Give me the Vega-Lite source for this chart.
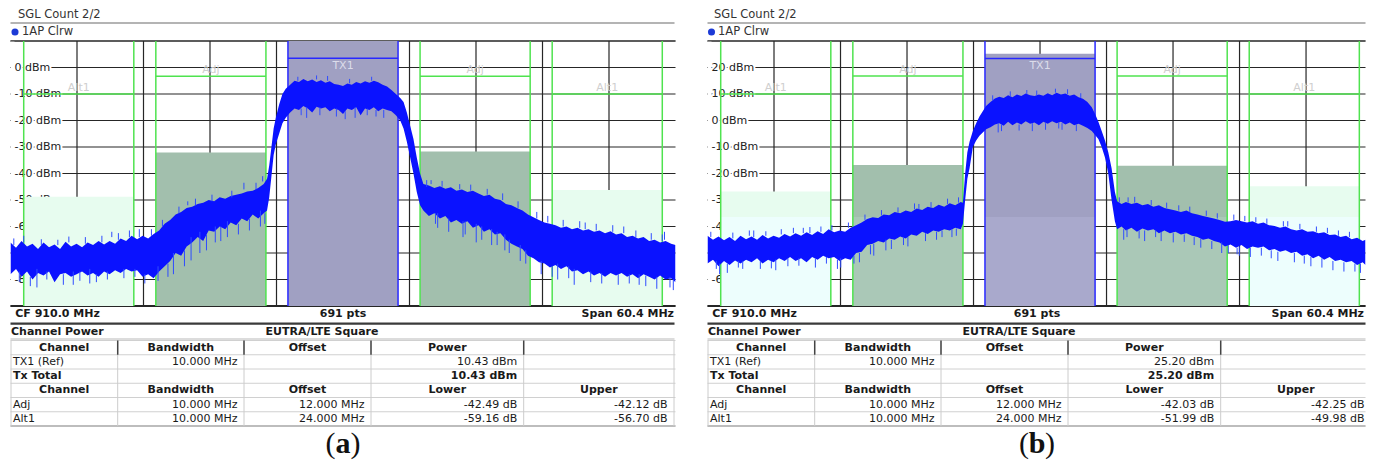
{
"$schema":"https://vega.github.io/schema/vega-lite/v6.json",
"background":"white",
"padding":{"left":8.5,"top":0,"right":0,"bottom":0},
"config":{"view":{"stroke":null}},
"datasets":{
"yA":[{"v":10,"t":""},{"v":0,"t":"0 dBm"},{"v":-10,"t":"-10 dBm"},{"v":-20,"t":"-20 dBm"},{"v":-30,"t":"-30 dBm"},{"v":-40,"t":"-40 dBm"},{"v":-50,"t":"-50 dBm"},{"v":-60,"t":"-60 dBm"},{"v":-70,"t":"-70 dBm"},{"v":-80,"t":"-80 dBm"},{"v":-90,"t":""}],
"yB":[{"v":30,"t":""},{"v":20,"t":"20 dBm"},{"v":10,"t":"10 dBm"},{"v":0,"t":"0 dBm"},{"v":-10,"t":"-10 dBm"},{"v":-20,"t":"-20 dBm"},{"v":-30,"t":"-30 dBm"},{"v":-40,"t":"-40 dBm"},{"v":-50,"t":"-50 dBm"},{"v":-60,"t":"-60 dBm"},{"v":-70,"t":""}],
"vgrid":[{"f":885.84},{"f":891.88},{"f":897.92},{"f":903.96},{"f":910},{"f":916.04},{"f":922.08},{"f":928.12},{"f":934.16}],
"chA":[{"ch":"Alt1","fc":886,"lo":881,"hi":891,"pw":-48.73,"lim":-10},{"ch":"Adj","fc":898,"lo":893,"hi":903,"pw":-32.06,"lim":-3.3},{"ch":"TX1","fc":910,"lo":905,"hi":915,"pw":10.43,"lim":3.5},{"ch":"Adj","fc":922,"lo":917,"hi":927,"pw":-31.69,"lim":-3.3},{"ch":"Alt1","fc":934,"lo":929,"hi":939,"pw":-46.27,"lim":-10}],
"chB":[{"ch":"Alt1","fc":886,"lo":881,"hi":891,"pw":-26.79,"lim":10},{"ch":"Adj","fc":898,"lo":893,"hi":903,"pw":-16.83,"lim":16.8},{"ch":"TX1","fc":910,"lo":905,"hi":915,"pw":25.2,"lim":23.4},{"ch":"Adj","fc":922,"lo":917,"hi":927,"pw":-17.05,"lim":16.8},{"ch":"Alt1","fc":934,"lo":929,"hi":939,"pw":-24.78,"lim":10}],
"traceA":[
{"f":879.8,"hi":-66,"lo":-78},{"f":880.3,"hi":-68,"lo":-76},{"f":880.8,"hi":-65.5,"lo":-79},{"f":881.3,"hi":-67.5,"lo":-77},{"f":881.8,"hi":-66.5,"lo":-80},{"f":882.3,"hi":-68.5,"lo":-77.5},{"f":882.8,"hi":-66,"lo":-78.5},{"f":883.3,"hi":-67.8,"lo":-77},{"f":883.8,"hi":-66.8,"lo":-81},{"f":884.3,"hi":-68.5,"lo":-78},{"f":884.8,"hi":-65.8,"lo":-77.5},{"f":885.3,"hi":-67.5,"lo":-79},{"f":885.8,"hi":-66.5,"lo":-78},{"f":886.3,"hi":-67.8,"lo":-77},{"f":886.8,"hi":-66,"lo":-78.5},{"f":887.3,"hi":-67,"lo":-77.5},{"f":887.8,"hi":-65.5,"lo":-79},{"f":888.3,"hi":-66.8,"lo":-77},{"f":888.8,"hi":-65.5,"lo":-78},{"f":889.3,"hi":-66.5,"lo":-76.5},{"f":889.8,"hi":-64.5,"lo":-77.5},{"f":890.3,"hi":-65.5,"lo":-76},{"f":890.8,"hi":-63.5,"lo":-77},{"f":891.3,"hi":-64.8,"lo":-76.5},{"f":891.8,"hi":-63.5,"lo":-79},{"f":892.3,"hi":-64.5,"lo":-78},{"f":892.8,"hi":-62.8,"lo":-79.5},{"f":893.3,"hi":-61.5,"lo":-77},{"f":893.8,"hi":-59,"lo":-75},{"f":894.3,"hi":-57.5,"lo":-73},{"f":894.8,"hi":-55.5,"lo":-70},{"f":895.3,"hi":-54.5,"lo":-71},{"f":895.8,"hi":-53,"lo":-67.5},{"f":896.3,"hi":-52.5,"lo":-66},{"f":896.8,"hi":-51.5,"lo":-64},{"f":897.3,"hi":-51,"lo":-65.5},{"f":897.8,"hi":-50,"lo":-61.5},{"f":898.3,"hi":-50.5,"lo":-62},{"f":898.8,"hi":-49,"lo":-60},{"f":899.3,"hi":-49.5,"lo":-61},{"f":899.8,"hi":-48.5,"lo":-58.5},{"f":900.3,"hi":-48,"lo":-59.5},{"f":900.8,"hi":-47.5,"lo":-57},{"f":901.3,"hi":-46.8,"lo":-58},{"f":901.8,"hi":-46.5,"lo":-55.5},{"f":902.3,"hi":-45.5,"lo":-57},{"f":902.8,"hi":-44,"lo":-55},{"f":903.1,"hi":-42,"lo":-54},{"f":903.3,"hi":-37,"lo":-49},{"f":903.5,"hi":-30,"lo":-41},{"f":903.7,"hi":-23,"lo":-33},{"f":903.9,"hi":-19,"lo":-29},{"f":904.2,"hi":-14,"lo":-25},{"f":904.5,"hi":-10,"lo":-21},{"f":904.8,"hi":-8,"lo":-19},{"f":905.2,"hi":-6.5,"lo":-17},{"f":905.6,"hi":-5,"lo":-15.5},{"f":906.0,"hi":-5.5,"lo":-16},{"f":906.4,"hi":-4.3,"lo":-14.5},{"f":906.8,"hi":-5.2,"lo":-15.5},{"f":907.2,"hi":-4.5,"lo":-17},{"f":907.6,"hi":-5.5,"lo":-14.8},{"f":908.0,"hi":-4.8,"lo":-15.5},{"f":908.4,"hi":-5.8,"lo":-15},{"f":908.8,"hi":-5.2,"lo":-16.5},{"f":909.2,"hi":-6.2,"lo":-15.5},{"f":909.6,"hi":-6.5,"lo":-16},{"f":910.0,"hi":-7,"lo":-17.5},{"f":910.4,"hi":-6,"lo":-15.5},{"f":910.8,"hi":-6.5,"lo":-16},{"f":911.2,"hi":-5.5,"lo":-15},{"f":911.6,"hi":-6,"lo":-18},{"f":912.0,"hi":-5.2,"lo":-15.5},{"f":912.4,"hi":-5.8,"lo":-16},{"f":912.8,"hi":-5,"lo":-15},{"f":913.2,"hi":-5.6,"lo":-16.5},{"f":913.6,"hi":-6.5,"lo":-15.5},{"f":914.0,"hi":-7.2,"lo":-16},{"f":914.4,"hi":-8.5,"lo":-16.5},{"f":914.8,"hi":-10,"lo":-18},{"f":915.2,"hi":-11.5,"lo":-20},{"f":915.5,"hi":-13,"lo":-23},{"f":915.8,"hi":-17,"lo":-28},{"f":916.1,"hi":-22,"lo":-34},{"f":916.4,"hi":-27,"lo":-40},{"f":916.7,"hi":-34,"lo":-47},{"f":917.0,"hi":-40,"lo":-52},{"f":917.3,"hi":-44,"lo":-54},{"f":917.8,"hi":-44.5,"lo":-56},{"f":918.3,"hi":-45.5,"lo":-55},{"f":918.8,"hi":-44.8,"lo":-57},{"f":919.3,"hi":-45.8,"lo":-56},{"f":919.8,"hi":-45.2,"lo":-58.5},{"f":920.3,"hi":-46.5,"lo":-57.5},{"f":920.8,"hi":-46,"lo":-59},{"f":921.3,"hi":-47,"lo":-58},{"f":921.8,"hi":-46.5,"lo":-60.5},{"f":922.3,"hi":-47.5,"lo":-59.5},{"f":922.8,"hi":-48.5,"lo":-62},{"f":923.3,"hi":-48,"lo":-61},{"f":923.8,"hi":-49.5,"lo":-63},{"f":924.3,"hi":-50,"lo":-62.5},{"f":924.8,"hi":-51.5,"lo":-65},{"f":925.3,"hi":-52,"lo":-66.5},{"f":925.8,"hi":-53,"lo":-67.5},{"f":926.3,"hi":-54,"lo":-68.5},{"f":926.8,"hi":-55.5,"lo":-71},{"f":927.3,"hi":-56.5,"lo":-72},{"f":927.8,"hi":-57.5,"lo":-73.5},{"f":928.3,"hi":-58.5,"lo":-74},{"f":928.8,"hi":-59,"lo":-75.5},{"f":929.3,"hi":-59.5,"lo":-74.5},{"f":929.8,"hi":-60.5,"lo":-76},{"f":930.3,"hi":-60,"lo":-75},{"f":930.8,"hi":-61,"lo":-77},{"f":931.3,"hi":-60.5,"lo":-76.5},{"f":931.8,"hi":-61.5,"lo":-78},{"f":932.3,"hi":-61,"lo":-77},{"f":932.8,"hi":-62,"lo":-78.5},{"f":933.3,"hi":-61.5,"lo":-77.5},{"f":933.8,"hi":-62.5,"lo":-79},{"f":934.3,"hi":-61.8,"lo":-77.5},{"f":934.8,"hi":-63,"lo":-78.5},{"f":935.3,"hi":-62.5,"lo":-77.5},{"f":935.8,"hi":-64,"lo":-79},{"f":936.3,"hi":-63.5,"lo":-78},{"f":936.8,"hi":-64.5,"lo":-79.5},{"f":937.3,"hi":-64,"lo":-78},{"f":937.8,"hi":-65.5,"lo":-79},{"f":938.3,"hi":-65,"lo":-80},{"f":938.8,"hi":-66,"lo":-78.5},{"f":939.3,"hi":-65.5,"lo":-80},{"f":939.8,"hi":-66.5,"lo":-79.5},{"f":940.2,"hi":-67,"lo":-81}],
"spikeA":[{"f":882.2,"a":-76,"b":-83},{"f":885.5,"a":-77,"b":-82},{"f":887.0,"a":-76,"b":-81.5},{"f":893.2,"a":-75,"b":-80.5},{"f":894.6,"a":-70,"b":-78},{"f":896.2,"a":-64,"b":-72.8},{"f":897.0,"a":-62,"b":-70},{"f":898.4,"a":-60,"b":-66},{"f":899.5,"a":-58,"b":-64},{"f":902.5,"a":-54,"b":-60},{"f":906.7,"a":-15,"b":-19},{"f":911.1,"a":-15,"b":-19},{"f":913.7,"a":-16,"b":-19},{"f":918.6,"a":-55,"b":-60.5},{"f":920.9,"a":-58,"b":-64},{"f":922.1,"a":-59,"b":-66},{"f":923.5,"a":-61,"b":-67},{"f":924.7,"a":-63,"b":-69},{"f":926.1,"a":-67,"b":-73},{"f":929.5,"a":-74,"b":-80},{"f":931.0,"a":-76,"b":-82},{"f":936.9,"a":-78,"b":-82},{"f":939.7,"a":-79,"b":-83},{"f":881.0,"a":-66,"b":-63.5},{"f":889.0,"a":-64,"b":-62},{"f":895.9,"a":-52,"b":-50.5},{"f":901.0,"a":-46,"b":-43.5},{"f":902.7,"a":-43,"b":-41},{"f":907.6,"a":-4.5,"b":-3},{"f":918.0,"a":-44,"b":-42.5},{"f":932.0,"a":-61,"b":-58.5},{"f":939.2,"a":-65,"b":-62},
{"f":880.1,"a":-67,"b":-64.5},{"f":880.6,"a":-77,"b":-81},{"f":881.6,"a":-79,"b":-82.5},{"f":882.6,"a":-67,"b":-64.8},{"f":883.1,"a":-77,"b":-80},{"f":884.1,"a":-67,"b":-65},{"f":884.6,"a":-78,"b":-82},{"f":885.1,"a":-66,"b":-63.8},{"f":886.1,"a":-77,"b":-80.5},{"f":886.6,"a":-66.5,"b":-64},{"f":887.6,"a":-78,"b":-81},{"f":888.1,"a":-66,"b":-63.5},{"f":888.6,"a":-77,"b":-80},{"f":889.6,"a":-65,"b":-62.5},{"f":890.1,"a":-76,"b":-79.5},{"f":890.6,"a":-64,"b":-61.5},{"f":891.1,"a":-76,"b":-79},{"f":891.5,"a":-64,"b":-61},{"f":892.0,"a":-78,"b":-81.5},{"f":892.6,"a":-63.5,"b":-61},{"f":893.6,"a":-60,"b":-57.5},{"f":894.1,"a":-74,"b":-79},{"f":895.1,"a":-55,"b":-52.5},{"f":895.6,"a":-69,"b":-75},{"f":896.6,"a":-52,"b":-49.5},{"f":897.6,"a":-63,"b":-69},{"f":898.1,"a":-50.5,"b":-48},{"f":898.9,"a":-60,"b":-65.5},{"f":899.9,"a":-49,"b":-46.5},{"f":900.5,"a":-59,"b":-63},{"f":901.5,"a":-57,"b":-61.5},{"f":902.1,"a":-46,"b":-43.5},{"f":902.9,"a":-55,"b":-59},{"f":905.9,"a":-5,"b":-3.5},{"f":906.2,"a":-15.5,"b":-18},{"f":907.9,"a":-15,"b":-18},{"f":908.6,"a":-5,"b":-3.2},{"f":909.4,"a":-15.5,"b":-18.5},{"f":910.2,"a":-16.5,"b":-19.5},{"f":910.6,"a":-6,"b":-4.3},{"f":912.2,"a":-15.5,"b":-18},{"f":912.6,"a":-5,"b":-3.5},{"f":913.0,"a":-16,"b":-18.5},{"f":917.6,"a":-45,"b":-42.5},{"f":918.4,"a":-55,"b":-59},{"f":919.0,"a":-45,"b":-42.8},{"f":919.6,"a":-57,"b":-62},{"f":920.6,"a":-46,"b":-44},{"f":921.1,"a":-58,"b":-63},{"f":921.6,"a":-46.5,"b":-44.2},{"f":922.6,"a":-60,"b":-65},{"f":923.1,"a":-48,"b":-45.8},{"f":924.0,"a":-62,"b":-67},{"f":924.5,"a":-50,"b":-47.5},{"f":925.1,"a":-65,"b":-70},{"f":925.9,"a":-53,"b":-50.5},{"f":926.6,"a":-69,"b":-74},{"f":927.6,"a":-57,"b":-54.5},{"f":928.0,"a":-73,"b":-78},{"f":928.6,"a":-58.5,"b":-56},{"f":929.0,"a":-75,"b":-79},{"f":930.0,"a":-60,"b":-57.5},{"f":930.5,"a":-75,"b":-79.5},{"f":931.5,"a":-60.5,"b":-58},{"f":932.5,"a":-77,"b":-81},{"f":933.0,"a":-61.5,"b":-59},{"f":933.5,"a":-77.5,"b":-81.5},{"f":934.5,"a":-62,"b":-59.5},{"f":935.0,"a":-78,"b":-82},{"f":935.5,"a":-62.5,"b":-60},{"f":936.0,"a":-78,"b":-81.5},{"f":936.6,"a":-64,"b":-61.5},{"f":937.5,"a":-78.5,"b":-82.5},{"f":938.0,"a":-65,"b":-62.5},{"f":938.5,"a":-79,"b":-83.5},{"f":939.0,"a":-65.5,"b":-63},{"f":940.0,"a":-80,"b":-84}],
"traceB":[
{"f":879.8,"hi":-43.5,"lo":-54},{"f":880.3,"hi":-45,"lo":-52.5},{"f":880.8,"hi":-43.8,"lo":-55},{"f":881.3,"hi":-45.2,"lo":-53},{"f":881.8,"hi":-44,"lo":-54.5},{"f":882.3,"hi":-45.5,"lo":-52.8},{"f":882.8,"hi":-43.5,"lo":-54},{"f":883.3,"hi":-44.8,"lo":-52.5},{"f":883.8,"hi":-43.8,"lo":-53.5},{"f":884.3,"hi":-45,"lo":-52},{"f":884.8,"hi":-43.2,"lo":-54},{"f":885.3,"hi":-44.5,"lo":-52.5},{"f":885.8,"hi":-43.5,"lo":-53.5},{"f":886.3,"hi":-44.2,"lo":-52},{"f":886.8,"hi":-42.8,"lo":-53},{"f":887.3,"hi":-43.8,"lo":-51.5},{"f":887.8,"hi":-42.5,"lo":-53},{"f":888.3,"hi":-43.5,"lo":-52},{"f":888.8,"hi":-42.2,"lo":-53.5},{"f":889.3,"hi":-43.2,"lo":-51.5},{"f":889.8,"hi":-41.8,"lo":-52.5},{"f":890.3,"hi":-42.8,"lo":-51},{"f":890.8,"hi":-41,"lo":-52},{"f":891.3,"hi":-42.2,"lo":-51.5},{"f":891.8,"hi":-41.5,"lo":-53},{"f":892.3,"hi":-42,"lo":-52},{"f":892.8,"hi":-40.5,"lo":-52.5},{"f":893.3,"hi":-39.5,"lo":-50},{"f":893.8,"hi":-38.5,"lo":-49.5},{"f":894.3,"hi":-37.2,"lo":-47},{"f":894.8,"hi":-36.5,"lo":-46.5},{"f":895.3,"hi":-36.8,"lo":-45.5},{"f":895.8,"hi":-35.5,"lo":-46},{"f":896.3,"hi":-35.8,"lo":-44.5},{"f":896.8,"hi":-34.5,"lo":-45},{"f":897.3,"hi":-35,"lo":-43.8},{"f":897.8,"hi":-34,"lo":-44.5},{"f":898.3,"hi":-34.5,"lo":-43},{"f":898.8,"hi":-33.2,"lo":-43.5},{"f":899.3,"hi":-33.8,"lo":-42},{"f":899.8,"hi":-32.5,"lo":-42.8},{"f":900.3,"hi":-33,"lo":-41.5},{"f":900.8,"hi":-31.8,"lo":-42},{"f":901.3,"hi":-32.5,"lo":-41},{"f":901.8,"hi":-31.2,"lo":-41.5},{"f":902.3,"hi":-32,"lo":-40.5},{"f":902.8,"hi":-30.8,"lo":-41},{"f":903.0,"hi":-31,"lo":-39},{"f":903.2,"hi":-20,"lo":-30},{"f":903.4,"hi":-12,"lo":-22},{"f":903.6,"hi":-8,"lo":-18},{"f":903.9,"hi":-4,"lo":-10},{"f":904.2,"hi":-1,"lo":-7.5},{"f":904.5,"hi":1.5,"lo":-5.8},{"f":904.8,"hi":3.5,"lo":-4.5},{"f":905.1,"hi":5.5,"lo":-3.3},{"f":905.5,"hi":7,"lo":-2.5},{"f":905.9,"hi":8.3,"lo":-1.5},{"f":906.3,"hi":9,"lo":-1},{"f":906.7,"hi":8.5,"lo":-2},{"f":907.1,"hi":9.5,"lo":-0.5},{"f":907.5,"hi":8.8,"lo":-1.8},{"f":907.9,"hi":9.8,"lo":-0.8},{"f":908.3,"hi":9.2,"lo":-1.5},{"f":908.7,"hi":10.2,"lo":-0.3},{"f":909.1,"hi":9.5,"lo":-1.2},{"f":909.5,"hi":9.2,"lo":-0.8},{"f":909.9,"hi":9.8,"lo":-1.8},{"f":910.3,"hi":9.3,"lo":-0.5},{"f":910.7,"hi":10.3,"lo":-1.2},{"f":911.1,"hi":9.5,"lo":-0.3},{"f":911.5,"hi":10.5,"lo":-1},{"f":911.9,"hi":9.8,"lo":-0.5},{"f":912.3,"hi":10.2,"lo":-1.5},{"f":912.7,"hi":9.3,"lo":-0.8},{"f":913.1,"hi":9.8,"lo":-1.8},{"f":913.5,"hi":8.8,"lo":-1.2},{"f":913.9,"hi":8.2,"lo":-2},{"f":914.3,"hi":7,"lo":-2.8},{"f":914.7,"hi":5,"lo":-4},{"f":915.0,"hi":2.5,"lo":-5.5},{"f":915.3,"hi":-0.5,"lo":-7},{"f":915.6,"hi":-4,"lo":-10},{"f":915.9,"hi":-7.5,"lo":-14},{"f":916.2,"hi":-12,"lo":-20},{"f":916.5,"hi":-18,"lo":-30},{"f":916.8,"hi":-27,"lo":-38},{"f":917.0,"hi":-30.5,"lo":-41},{"f":917.4,"hi":-31.5,"lo":-40},{"f":917.8,"hi":-30.8,"lo":-41.5},{"f":918.3,"hi":-31.5,"lo":-40.5},{"f":918.8,"hi":-31,"lo":-42},{"f":919.3,"hi":-32,"lo":-40.8},{"f":919.8,"hi":-31.5,"lo":-41.5},{"f":920.3,"hi":-32.5,"lo":-41},{"f":920.8,"hi":-32,"lo":-42.5},{"f":921.3,"hi":-33,"lo":-41.5},{"f":921.8,"hi":-33.5,"lo":-42.5},{"f":922.3,"hi":-34,"lo":-42},{"f":922.8,"hi":-34.5,"lo":-43},{"f":923.3,"hi":-34,"lo":-42.5},{"f":923.8,"hi":-35,"lo":-43.5},{"f":924.3,"hi":-35.5,"lo":-44},{"f":924.8,"hi":-36,"lo":-45},{"f":925.3,"hi":-36.5,"lo":-44.5},{"f":925.8,"hi":-37,"lo":-45.5},{"f":926.3,"hi":-37.5,"lo":-46},{"f":926.8,"hi":-38.2,"lo":-47.5},{"f":927.3,"hi":-38,"lo":-46.8},{"f":927.8,"hi":-37.5,"lo":-48},{"f":928.3,"hi":-38,"lo":-47},{"f":928.8,"hi":-38.5,"lo":-48.5},{"f":929.3,"hi":-38,"lo":-47.5},{"f":929.8,"hi":-39,"lo":-48},{"f":930.3,"hi":-38.5,"lo":-47.5},{"f":930.8,"hi":-39.5,"lo":-49},{"f":931.3,"hi":-39.8,"lo":-48.5},{"f":931.8,"hi":-40.5,"lo":-49.5},{"f":932.3,"hi":-40,"lo":-49},{"f":932.8,"hi":-41,"lo":-50},{"f":933.3,"hi":-41.5,"lo":-49.5},{"f":933.8,"hi":-41,"lo":-51},{"f":934.3,"hi":-42,"lo":-50.5},{"f":934.8,"hi":-41.8,"lo":-52},{"f":935.3,"hi":-42.5,"lo":-51},{"f":935.8,"hi":-42.2,"lo":-52.5},{"f":936.3,"hi":-43.2,"lo":-51.5},{"f":936.8,"hi":-43,"lo":-53},{"f":937.3,"hi":-44,"lo":-52.5},{"f":937.8,"hi":-43.5,"lo":-53.5},{"f":938.3,"hi":-44.8,"lo":-53},{"f":938.8,"hi":-44.2,"lo":-54.5},{"f":939.3,"hi":-45.5,"lo":-53.5},{"f":939.56,"hi":-45,"lo":-54.5}],
"spikeB":[{"f":880.9,"a":-54,"b":-58},{"f":883.0,"a":-53,"b":-56},{"f":886.0,"a":-52.5,"b":-56.5},{"f":891.9,"a":-52,"b":-55.5},{"f":893.6,"a":-50,"b":-53.5},{"f":894.9,"a":-46.5,"b":-51},{"f":896.0,"a":-45,"b":-49},{"f":898.0,"a":-44,"b":-47.5},{"f":900.6,"a":-42,"b":-45},{"f":902.0,"a":-41,"b":-44},{"f":906.2,"a":-1,"b":-4.5},{"f":909.3,"a":-1,"b":-4},{"f":912.0,"a":-1,"b":-3.5},{"f":917.6,"a":-41,"b":-45},{"f":919.0,"a":-41.5,"b":-44.5},{"f":921.0,"a":-42,"b":-45.5},{"f":924.0,"a":-44,"b":-47},{"f":926.5,"a":-46,"b":-50},{"f":927.9,"a":-48,"b":-50.5},{"f":931.0,"a":-49,"b":-52},{"f":934.0,"a":-51,"b":-54},{"f":938.6,"a":-54,"b":-57},{"f":884.0,"a":-44,"b":-41.5},{"f":888.5,"a":-42.5,"b":-40.5},{"f":899.0,"a":-33.5,"b":-31.5},{"f":901.6,"a":-31.5,"b":-29.5},{"f":908.8,"a":10,"b":11.5},{"f":911.4,"a":10.5,"b":12},{"f":918.0,"a":-31,"b":-29},{"f":932.5,"a":-40,"b":-38},
{"f":880.1,"a":-44,"b":-42},{"f":880.6,"a":-53,"b":-56},{"f":881.6,"a":-54,"b":-57.5},{"f":882.1,"a":-44.5,"b":-42.3},{"f":882.6,"a":-53,"b":-55.5},{"f":883.6,"a":-43.5,"b":-41.5},{"f":884.6,"a":-53,"b":-56},{"f":885.1,"a":-43.5,"b":-41.8},{"f":885.6,"a":-53,"b":-55.8},{"f":886.5,"a":-43,"b":-41},{"f":887.1,"a":-52,"b":-55},{"f":887.6,"a":-42.5,"b":-40.5},{"f":888.1,"a":-52,"b":-54.8},{"f":889.1,"a":-42.5,"b":-40.2},{"f":889.6,"a":-52,"b":-55.5},{"f":890.1,"a":-42,"b":-40},{"f":890.6,"a":-51.5,"b":-54},{"f":891.1,"a":-41.5,"b":-39.5},{"f":891.6,"a":-52.5,"b":-56},{"f":892.6,"a":-40.5,"b":-38.5},{"f":893.1,"a":-51,"b":-54},{"f":894.1,"a":-37.5,"b":-35.5},{"f":894.6,"a":-47,"b":-50.5},{"f":895.6,"a":-35.8,"b":-33.8},{"f":896.5,"a":-45,"b":-48.5},{"f":897.1,"a":-34.8,"b":-32.8},{"f":897.6,"a":-44,"b":-47},{"f":898.6,"a":-33.5,"b":-31.3},{"f":899.6,"a":-42.5,"b":-45.5},{"f":900.1,"a":-32.8,"b":-30.8},{"f":901.1,"a":-41.5,"b":-44},{"f":902.6,"a":-31,"b":-29},{"f":902.4,"a":-40.8,"b":-43.5},{"f":905.7,"a":7.5,"b":9.5},{"f":906.5,"a":-1.5,"b":-4},{"f":907.3,"a":9,"b":11},{"f":908.1,"a":-1.5,"b":-3.8},{"f":909.7,"a":9.5,"b":11.3},{"f":910.5,"a":-1,"b":-3.5},{"f":911.7,"a":-0.8,"b":-3},{"f":912.5,"a":10,"b":11.8},{"f":913.3,"a":-1.5,"b":-4},{"f":913.7,"a":8.5,"b":10.3},{"f":917.2,"a":-31,"b":-29},{"f":917.9,"a":-41,"b":-44},{"f":918.6,"a":-31,"b":-28.8},{"f":919.5,"a":-41.5,"b":-45.5},{"f":920.1,"a":-32,"b":-30},{"f":920.5,"a":-41.5,"b":-44},{"f":921.5,"a":-33,"b":-31},{"f":922.1,"a":-42.5,"b":-46},{"f":922.6,"a":-34,"b":-32},{"f":923.1,"a":-43,"b":-45.8},{"f":923.6,"a":-34.5,"b":-32.5},{"f":924.6,"a":-44.5,"b":-48},{"f":925.1,"a":-36,"b":-34},{"f":925.6,"a":-45.5,"b":-48.5},{"f":926.1,"a":-37,"b":-35},{"f":927.1,"a":-47,"b":-50},{"f":927.6,"a":-37.5,"b":-35.5},{"f":928.1,"a":-47.5,"b":-51},{"f":928.6,"a":-38,"b":-36},{"f":929.1,"a":-48,"b":-51.5},{"f":929.6,"a":-38.5,"b":-36.5},{"f":930.1,"a":-48,"b":-51},{"f":930.6,"a":-39,"b":-37},{"f":931.6,"a":-49.5,"b":-53},{"f":932.1,"a":-40,"b":-38},{"f":933.1,"a":-50,"b":-53.5},{"f":933.6,"a":-41,"b":-39},{"f":934.6,"a":-51.5,"b":-55},{"f":935.1,"a":-42,"b":-40},{"f":935.6,"a":-52,"b":-55.5},{"f":936.1,"a":-42.5,"b":-40.5},{"f":936.6,"a":-53,"b":-56.5},{"f":937.1,"a":-43.5,"b":-41.5},{"f":937.6,"a":-53.5,"b":-57},{"f":938.1,"a":-44,"b":-42},{"f":939.1,"a":-54,"b":-57.5}],
"tableA":[{"r":0,"c":0,"t":"Channel","k":"head"},{"r":0,"c":1,"t":"Bandwidth","k":"head"},{"r":0,"c":2,"t":"Offset","k":"head"},{"r":0,"c":3,"t":"Power","k":"head"},{"r":1,"c":0,"t":"TX1 (Ref)","k":"label"},{"r":1,"c":1,"t":"10.000 MHz","k":"value"},{"r":1,"c":3,"t":"10.43 dBm","k":"value"},{"r":2,"c":0,"t":"Tx Total","k":"tlabel"},{"r":2,"c":3,"t":"10.43 dBm","k":"tvalue"},{"r":3,"c":0,"t":"Channel","k":"head"},{"r":3,"c":1,"t":"Bandwidth","k":"head"},{"r":3,"c":2,"t":"Offset","k":"head"},{"r":3,"c":3,"t":"Lower","k":"head"},{"r":3,"c":4,"t":"Upper","k":"head"},{"r":4,"c":0,"t":"Adj","k":"label"},{"r":4,"c":1,"t":"10.000 MHz","k":"value"},{"r":4,"c":2,"t":"12.000 MHz","k":"value"},{"r":4,"c":3,"t":"-42.49 dB","k":"value"},{"r":4,"c":4,"t":"-42.12 dB","k":"value"},{"r":5,"c":0,"t":"Alt1","k":"label"},{"r":5,"c":1,"t":"10.000 MHz","k":"value"},{"r":5,"c":2,"t":"24.000 MHz","k":"value"},{"r":5,"c":3,"t":"-59.16 dB","k":"value"},{"r":5,"c":4,"t":"-56.70 dB","k":"value"}],
"tableB":[{"r":0,"c":0,"t":"Channel","k":"head"},{"r":0,"c":1,"t":"Bandwidth","k":"head"},{"r":0,"c":2,"t":"Offset","k":"head"},{"r":0,"c":3,"t":"Power","k":"head"},{"r":1,"c":0,"t":"TX1 (Ref)","k":"label"},{"r":1,"c":1,"t":"10.000 MHz","k":"value"},{"r":1,"c":3,"t":"25.20 dBm","k":"value"},{"r":2,"c":0,"t":"Tx Total","k":"tlabel"},{"r":2,"c":3,"t":"25.20 dBm","k":"tvalue"},{"r":3,"c":0,"t":"Channel","k":"head"},{"r":3,"c":1,"t":"Bandwidth","k":"head"},{"r":3,"c":2,"t":"Offset","k":"head"},{"r":3,"c":3,"t":"Lower","k":"head"},{"r":3,"c":4,"t":"Upper","k":"head"},{"r":4,"c":0,"t":"Adj","k":"label"},{"r":4,"c":1,"t":"10.000 MHz","k":"value"},{"r":4,"c":2,"t":"12.000 MHz","k":"value"},{"r":4,"c":3,"t":"-42.03 dB","k":"value"},{"r":4,"c":4,"t":"-42.25 dB","k":"value"},{"r":5,"c":0,"t":"Alt1","k":"label"},{"r":5,"c":1,"t":"10.000 MHz","k":"value"},{"r":5,"c":2,"t":"24.000 MHz","k":"value"},{"r":5,"c":3,"t":"-51.99 dB","k":"value"},{"r":5,"c":4,"t":"-49.98 dB","k":"value"}],
"hsep":[{"r":0},{"r":1},{"r":2},{"r":3},{"r":4},{"r":5},{"r":6}],
"vsep":[{"e":0},{"e":1},{"e":2},{"e":3},{"e":4},{"e":5}]
},
"columns":2,
"spacing":{"row":0,"column":32},
"bounds":"flush",
"concat":[
 {"width":665,"height":41,"layer":[
  {"data":{"values":[{"t":"SGL Count 2/2"}]},"mark":{"type":"text","align":"left","baseline":"middle","font":"DejaVu Sans","fontSize":11.5,"color":"#333333"},"encoding":{"x":{"value":7.5},"y":{"value":15},"text":{"field":"t"}}},
  {"data":{"values":[{}]},"mark":{"type":"rule","color":"#b4b4b4","strokeWidth":2},"encoding":{"x":{"value":0},"x2":{"value":664},"y":{"value":23}}},
  {"data":{"values":[{}]},"mark":{"type":"point","filled":true,"shape":"circle","size":50,"color":"#1c3ad6","opacity":1},"encoding":{"x":{"value":4.5},"y":{"value":32}}},
  {"data":{"values":[{"t":"1AP Clrw"}]},"mark":{"type":"text","align":"left","baseline":"middle","font":"DejaVu Sans","fontSize":11.5,"color":"#333333"},"encoding":{"x":{"value":11.5},"y":{"value":32},"text":{"field":"t"}}}
 ]},
 {"width":658,"height":41,"layer":[
  {"data":{"values":[{"t":"SGL Count 2/2"}]},"mark":{"type":"text","align":"left","baseline":"middle","font":"DejaVu Sans","fontSize":11.5,"color":"#333333"},"encoding":{"x":{"value":6.5},"y":{"value":15},"text":{"field":"t"}}},
  {"data":{"values":[{}]},"mark":{"type":"rule","color":"#b4b4b4","strokeWidth":2},"encoding":{"x":{"value":0},"x2":{"value":658},"y":{"value":23}}},
  {"data":{"values":[{}]},"mark":{"type":"point","filled":true,"shape":"circle","size":50,"color":"#1c3ad6","opacity":1},"encoding":{"x":{"value":4},"y":{"value":32}}},
  {"data":{"values":[{"t":"1AP Clrw"}]},"mark":{"type":"text","align":"left","baseline":"middle","font":"DejaVu Sans","fontSize":11.5,"color":"#333333"},"encoding":{"x":{"value":10.5},"y":{"value":32},"text":{"field":"t"}}}
 ]},
 {"width":665,"height":265,"layer":[
  {"data":{"name":"yA"},"mark":{"type":"rule","color":"#262626","strokeWidth":1.2},"encoding":{"y":{"field":"v","type":"quantitative","scale":{"domain":[-90,10],"nice":false,"zero":false},"axis":null}}},
  {"data":{"name":"vgrid"},"mark":{"type":"rule","color":"#262626","strokeWidth":1.2},"encoding":{"x":{"field":"f","type":"quantitative","scale":{"domain":[879.8,940.2],"nice":false,"zero":false},"axis":null}}},
  {"data":{"values":[{}]},"mark":{"type":"rule","color":"white","strokeWidth":3.6},"encoding":{"x":{"datum":880.0,"type":"quantitative"}}},
  {"data":{"name":"yA"},"transform":[{"filter":"datum.v == 10"}],"mark":{"type":"rule","color":"#262626","strokeWidth":1.2},"encoding":{"y":{"field":"v","type":"quantitative"}}},
  {"data":{"name":"yA"},"transform":[{"filter":"datum.v == -90"}],"mark":{"type":"rule","color":"#262626","strokeWidth":2},"encoding":{"y":{"field":"v","type":"quantitative"}}},
  {"data":{"name":"yA"},"mark":{"type":"text","align":"left","baseline":"middle","dx":4,"font":"DejaVu Sans","fontSize":11,"fill":"white","stroke":"white","strokeWidth":4,"strokeJoin":"round"},"encoding":{"x":{"datum":879.8,"type":"quantitative"},"y":{"field":"v","type":"quantitative"},"text":{"field":"t"}}},
  {"data":{"name":"yA"},"mark":{"type":"text","align":"left","baseline":"middle","dx":4,"font":"DejaVu Sans","fontSize":11,"color":"#222222"},"encoding":{"x":{"datum":879.8,"type":"quantitative"},"y":{"field":"v","type":"quantitative"},"text":{"field":"t"}}},
  {"data":{"name":"chA"},"mark":{"type":"rect","clip":true},"encoding":{"x":{"field":"lo","type":"quantitative"},"x2":{"field":"hi"},"y":{"field":"pw","type":"quantitative"},"y2":{"datum":-90},"color":{"field":"ch","type":"nominal","scale":{"domain":["TX1","Adj","Alt1"],"range":["#a0a0c2","#a2bfad","#e7fcef"]},"legend":null}}},
  {"data":{"name":"chA"},"transform":[{"filter":"datum.ch != 'TX1'"},{"fold":["lo","hi"],"as":["edge","fe"]}],"mark":{"type":"rule","color":"#4fe34f","strokeWidth":1.5},"encoding":{"x":{"field":"fe","type":"quantitative"}}},
  {"data":{"name":"chA"},"transform":[{"filter":"datum.ch == 'TX1'"},{"fold":["lo","hi"],"as":["edge","fe"]}],"mark":{"type":"rule","color":"#2828ff","strokeWidth":1.5},"encoding":{"x":{"field":"fe","type":"quantitative"}}},
  {"data":{"name":"chA"},"transform":[{"filter":"datum.ch != 'TX1'"}],"mark":{"type":"rule","color":"#4fe34f","strokeWidth":1.5},"encoding":{"x":{"field":"lo","type":"quantitative"},"x2":{"field":"hi"},"y":{"field":"lim","type":"quantitative"}}},
  {"data":{"name":"chA"},"transform":[{"filter":"datum.ch == 'TX1'"}],"mark":{"type":"rule","color":"#2828ff","strokeWidth":1.5},"encoding":{"x":{"field":"lo","type":"quantitative"},"x2":{"field":"hi"},"y":{"field":"lim","type":"quantitative"}}},
  {"data":{"name":"chA"},"transform":[{"filter":"datum.ch != 'TX1'"}],"mark":{"type":"text","baseline":"bottom","dy":-1,"font":"DejaVu Sans","fontSize":11,"color":"#cfcfcf"},"encoding":{"x":{"field":"fc","type":"quantitative"},"y":{"field":"lim","type":"quantitative"},"text":{"field":"ch"}}},
  {"data":{"name":"chA"},"transform":[{"filter":"datum.ch == 'TX1'"}],"mark":{"type":"text","baseline":"top","dy":2,"font":"DejaVu Sans","fontSize":11,"color":"#dcdcea"},"encoding":{"x":{"field":"fc","type":"quantitative"},"y":{"field":"lim","type":"quantitative"},"text":{"field":"ch"}}},
  {"data":{"name":"traceA"},"mark":{"type":"area","color":"#0a12ff","opacity":1,"clip":true},"encoding":{"x":{"field":"f","type":"quantitative"},"y":{"field":"hi","type":"quantitative"},"y2":{"field":"lo"}}},
  {"data":{"name":"spikeA"},"mark":{"type":"rule","color":"#2f4cff","strokeWidth":1},"encoding":{"x":{"field":"f","type":"quantitative"},"y":{"field":"a","type":"quantitative"},"y2":{"field":"b"}}}
 ]},
 {"width":658,"height":265,"layer":[
  {"data":{"name":"yB"},"mark":{"type":"rule","color":"#262626","strokeWidth":1.2},"encoding":{"y":{"field":"v","type":"quantitative","scale":{"domain":[-70,30],"nice":false,"zero":false},"axis":null}}},
  {"data":{"name":"vgrid"},"mark":{"type":"rule","color":"#262626","strokeWidth":1.2},"encoding":{"x":{"field":"f","type":"quantitative","scale":{"domain":[879.8,939.56],"nice":false,"zero":false},"axis":null}}},
  {"data":{"values":[{}]},"mark":{"type":"rule","color":"white","strokeWidth":3.6},"encoding":{"x":{"datum":880.0,"type":"quantitative"}}},
  {"data":{"name":"yB"},"transform":[{"filter":"datum.v == 30"}],"mark":{"type":"rule","color":"#262626","strokeWidth":1.2},"encoding":{"y":{"field":"v","type":"quantitative"}}},
  {"data":{"name":"yB"},"transform":[{"filter":"datum.v == -70"}],"mark":{"type":"rule","color":"#262626","strokeWidth":2},"encoding":{"y":{"field":"v","type":"quantitative"}}},
  {"data":{"name":"yB"},"mark":{"type":"text","align":"left","baseline":"middle","dx":4,"font":"DejaVu Sans","fontSize":11,"fill":"white","stroke":"white","strokeWidth":4,"strokeJoin":"round"},"encoding":{"x":{"datum":879.8,"type":"quantitative"},"y":{"field":"v","type":"quantitative"},"text":{"field":"t"}}},
  {"data":{"name":"yB"},"mark":{"type":"text","align":"left","baseline":"middle","dx":4,"font":"DejaVu Sans","fontSize":11,"color":"#222222"},"encoding":{"x":{"datum":879.8,"type":"quantitative"},"y":{"field":"v","type":"quantitative"},"text":{"field":"t"}}},
  {"data":{"name":"chB"},"mark":{"type":"rect","clip":true},"encoding":{"x":{"field":"lo","type":"quantitative"},"x2":{"field":"hi"},"y":{"field":"pw","type":"quantitative"},"y2":{"datum":-36.4},"color":{"field":"ch","type":"nominal","scale":{"domain":["TX1","Adj","Alt1"],"range":["#a0a0c2","#a2bfad","#e7fcef"]},"legend":null}}},
  {"data":{"name":"chB"},"mark":{"type":"rect","clip":true},"encoding":{"x":{"field":"lo","type":"quantitative"},"x2":{"field":"hi"},"y":{"datum":-36.4},"y2":{"datum":-70},"fill":{"field":"ch","type":"nominal","scale":{"domain":["TX1","Adj","Alt1"],"range":["#a9a9cc","#aac8b7","#edfefd"]},"legend":null}}},
  {"data":{"name":"chB"},"transform":[{"filter":"datum.ch != 'TX1'"},{"fold":["lo","hi"],"as":["edge","fe"]}],"mark":{"type":"rule","color":"#4fe34f","strokeWidth":1.5},"encoding":{"x":{"field":"fe","type":"quantitative"}}},
  {"data":{"name":"chB"},"transform":[{"filter":"datum.ch == 'TX1'"},{"fold":["lo","hi"],"as":["edge","fe"]}],"mark":{"type":"rule","color":"#2828ff","strokeWidth":1.5},"encoding":{"x":{"field":"fe","type":"quantitative"}}},
  {"data":{"name":"chB"},"transform":[{"filter":"datum.ch != 'TX1'"}],"mark":{"type":"rule","color":"#4fe34f","strokeWidth":1.5},"encoding":{"x":{"field":"lo","type":"quantitative"},"x2":{"field":"hi"},"y":{"field":"lim","type":"quantitative"}}},
  {"data":{"name":"chB"},"transform":[{"filter":"datum.ch == 'TX1'"}],"mark":{"type":"rule","color":"#2828ff","strokeWidth":1.5},"encoding":{"x":{"field":"lo","type":"quantitative"},"x2":{"field":"hi"},"y":{"field":"lim","type":"quantitative"}}},
  {"data":{"name":"chB"},"transform":[{"filter":"datum.ch != 'TX1'"}],"mark":{"type":"text","baseline":"bottom","dy":-1,"font":"DejaVu Sans","fontSize":11,"color":"#cfcfcf"},"encoding":{"x":{"field":"fc","type":"quantitative"},"y":{"field":"lim","type":"quantitative"},"text":{"field":"ch"}}},
  {"data":{"name":"chB"},"transform":[{"filter":"datum.ch == 'TX1'"}],"mark":{"type":"text","baseline":"top","dy":2,"font":"DejaVu Sans","fontSize":11,"color":"#dcdcea"},"encoding":{"x":{"field":"fc","type":"quantitative"},"y":{"field":"lim","type":"quantitative"},"text":{"field":"ch"}}},
  {"data":{"name":"traceB"},"mark":{"type":"area","color":"#0a12ff","opacity":1,"clip":true},"encoding":{"x":{"field":"f","type":"quantitative"},"y":{"field":"hi","type":"quantitative"},"y2":{"field":"lo"}}},
  {"data":{"name":"spikeB"},"mark":{"type":"rule","color":"#2f4cff","strokeWidth":1},"encoding":{"x":{"field":"f","type":"quantitative"},"y":{"field":"a","type":"quantitative"},"y2":{"field":"b"}}}
 ]},
 {"width":665,"height":161,"resolve":{"scale":{"x":"independent","y":"independent"}},"layer":[
  {"data":{"values":[{"t":"CF 910.0 MHz"}]},"mark":{"type":"text","align":"left","baseline":"middle","font":"DejaVu Sans","fontSize":11,"fontWeight":"bold","color":"#1a1a1a"},"encoding":{"x":{"value":4.8},"y":{"value":8.3},"text":{"field":"t"}}},
  {"data":{"values":[{"t":"691 pts"}]},"mark":{"type":"text","align":"center","baseline":"middle","font":"DejaVu Sans","fontSize":11,"fontWeight":"bold","color":"#1a1a1a"},"encoding":{"x":{"value":332.5},"y":{"value":8.3},"text":{"field":"t"}}},
  {"data":{"values":[{"t":"Span 60.4 MHz"}]},"mark":{"type":"text","align":"right","baseline":"middle","font":"DejaVu Sans","fontSize":11,"fontWeight":"bold","color":"#1a1a1a"},"encoding":{"x":{"value":663.5},"y":{"value":8.3},"text":{"field":"t"}}},
  {"data":{"values":[{}]},"mark":{"type":"rule","color":"#3a3a3a","strokeWidth":2.2},"encoding":{"x":{"value":0},"x2":{"value":664},"y":{"value":17.7}}},
  {"data":{"values":[{"t":"Channel Power"}]},"mark":{"type":"text","align":"left","baseline":"middle","font":"DejaVu Sans","fontSize":11,"fontWeight":"bold","color":"#1a1a1a"},"encoding":{"x":{"value":0.5},"y":{"value":25.7},"text":{"field":"t"}}},
  {"data":{"values":[{"t":"EUTRA/LTE Square"}]},"mark":{"type":"text","align":"center","baseline":"middle","font":"DejaVu Sans","fontSize":11,"fontWeight":"bold","color":"#1a1a1a"},"encoding":{"x":{"value":311.5},"y":{"value":25.7},"text":{"field":"t"}}},
  {"data":{"values":[{}]},"mark":{"type":"rule","color":"#dcdcdc","strokeWidth":2},"encoding":{"x":{"value":0},"x2":{"value":664},"y":{"value":33}}},
  {"data":{"name":"hsep"},"mark":{"type":"rule","color":"#d0d0d0","strokeWidth":1},"encoding":{"y":{"field":"r","type":"quantitative","scale":{"domain":[0,6],"range":[34.5,120],"nice":false,"zero":false},"axis":null}}},
  {"data":{"name":"hsep"},"transform":[{"filter":"datum.r == 6"}],"mark":{"type":"rule","color":"#bdbdbd","strokeWidth":2},"encoding":{"y":{"field":"r","type":"quantitative","scale":{"domain":[0,6],"range":[34.5,120],"nice":false,"zero":false},"axis":null}}},
  {"data":{"name":"vsep"},"mark":{"type":"rule","color":"#cccccc","strokeWidth":1},"encoding":{"x":{"field":"e","type":"quantitative","scale":{"domain":[0,1,2,3,4,5],"range":[0.5,107.2,233.5,360.5,513.2,663.5],"nice":false,"zero":false},"axis":null},"y":{"datum":0,"type":"quantitative","scale":{"domain":[0,6],"range":[34.5,120],"nice":false,"zero":false},"axis":null},"y2":{"datum":6}}},
  {"data":{"name":"vsep"},"transform":[{"filter":"datum.e >= 1 && datum.e <= 4"}],"mark":{"type":"rule","color":"#444444","strokeWidth":1.5},"encoding":{"x":{"field":"e","type":"quantitative","scale":{"domain":[0,1,2,3,4,5],"range":[0.5,107.2,233.5,360.5,513.2,663.5],"nice":false,"zero":false},"axis":null},"y":{"datum":0,"type":"quantitative","scale":{"domain":[0,6],"range":[34.5,120],"nice":false,"zero":false},"axis":null},"y2":{"datum":1}}},
  {"data":{"name":"tableA"},"transform":[{"filter":"datum.k == 'head'"}],"mark":{"type":"text","align":"center","baseline":"middle","font":"DejaVu Sans","fontSize":11,"fontWeight":"bold","color":"#1a1a1a"},"encoding":{"x":{"field":"c","type":"quantitative","scale":{"domain":[0,1,2,3,4],"range":[53.7,170.3,297,436.8,588.3],"nice":false,"zero":false},"axis":null},"y":{"field":"r","type":"quantitative","scale":{"domain":[0,5],"range":[41.6,112.9],"nice":false,"zero":false},"axis":null},"text":{"field":"t"}}},
  {"data":{"name":"tableA"},"transform":[{"filter":"datum.k == 'label'"}],"mark":{"type":"text","align":"left","baseline":"middle","dx":2,"font":"DejaVu Sans","fontSize":11,"color":"#1a1a1a"},"encoding":{"x":{"field":"c","type":"quantitative","scale":{"domain":[0,1,2,3,4],"range":[0.5,107.2,233.5,360.5,513.2],"nice":false,"zero":false},"axis":null},"y":{"field":"r","type":"quantitative","scale":{"domain":[0,5],"range":[41.6,112.9],"nice":false,"zero":false},"axis":null},"text":{"field":"t"}}},
  {"data":{"name":"tableA"},"transform":[{"filter":"datum.k == 'value'"}],"mark":{"type":"text","align":"right","baseline":"middle","dx":-6.5,"font":"DejaVu Sans","fontSize":11,"color":"#1a1a1a"},"encoding":{"x":{"field":"c","type":"quantitative","scale":{"domain":[0,1,2,3,4],"range":[107.2,233.5,360.5,513.2,663.5],"nice":false,"zero":false},"axis":null},"y":{"field":"r","type":"quantitative","scale":{"domain":[0,5],"range":[41.6,112.9],"nice":false,"zero":false},"axis":null},"text":{"field":"t"}}},
  {"data":{"name":"tableA"},"transform":[{"filter":"datum.k == 'tlabel'"}],"mark":{"type":"text","align":"left","baseline":"middle","dx":2,"font":"DejaVu Sans","fontSize":11,"fontWeight":"bold","color":"#1a1a1a"},"encoding":{"x":{"field":"c","type":"quantitative","scale":{"domain":[0,1,2,3,4],"range":[0.5,107.2,233.5,360.5,513.2],"nice":false,"zero":false},"axis":null},"y":{"field":"r","type":"quantitative","scale":{"domain":[0,5],"range":[41.6,112.9],"nice":false,"zero":false},"axis":null},"text":{"field":"t"}}},
  {"data":{"name":"tableA"},"transform":[{"filter":"datum.k == 'tvalue'"}],"mark":{"type":"text","align":"right","baseline":"middle","dx":-6.5,"font":"DejaVu Sans","fontSize":11,"fontWeight":"bold","color":"#1a1a1a"},"encoding":{"x":{"field":"c","type":"quantitative","scale":{"domain":[0,1,2,3,4],"range":[107.2,233.5,360.5,513.2,663.5],"nice":false,"zero":false},"axis":null},"y":{"field":"r","type":"quantitative","scale":{"domain":[0,5],"range":[41.6,112.9],"nice":false,"zero":false},"axis":null},"text":{"field":"t"}}},
  {"data":{"values":[{"t":"("}]},"mark":{"type":"text","align":"right","baseline":"alphabetic","font":"Liberation Serif","fontSize":30,"color":"#111111"},"encoding":{"x":{"value":325},"y":{"value":147},"text":{"field":"t"}}},
  {"data":{"values":[{"t":"a"}]},"mark":{"type":"text","align":"center","baseline":"alphabetic","font":"Liberation Serif","fontSize":30,"fontWeight":"bold","color":"#111111"},"encoding":{"x":{"value":332.5},"y":{"value":147},"text":{"field":"t"}}},
  {"data":{"values":[{"t":")"}]},"mark":{"type":"text","align":"left","baseline":"alphabetic","font":"Liberation Serif","fontSize":30,"color":"#111111"},"encoding":{"x":{"value":340},"y":{"value":147},"text":{"field":"t"}}}
 ]},
 {"width":658,"height":161,"resolve":{"scale":{"x":"independent","y":"independent"}},"layer":[
  {"data":{"values":[{"t":"CF 910.0 MHz"}]},"mark":{"type":"text","align":"left","baseline":"middle","font":"DejaVu Sans","fontSize":11,"fontWeight":"bold","color":"#1a1a1a"},"encoding":{"x":{"value":4.8},"y":{"value":8.3},"text":{"field":"t"}}},
  {"data":{"values":[{"t":"691 pts"}]},"mark":{"type":"text","align":"center","baseline":"middle","font":"DejaVu Sans","fontSize":11,"fontWeight":"bold","color":"#1a1a1a"},"encoding":{"x":{"value":329.5},"y":{"value":8.3},"text":{"field":"t"}}},
  {"data":{"values":[{"t":"Span 60.4 MHz"}]},"mark":{"type":"text","align":"right","baseline":"middle","font":"DejaVu Sans","fontSize":11,"fontWeight":"bold","color":"#1a1a1a"},"encoding":{"x":{"value":656.5},"y":{"value":8.3},"text":{"field":"t"}}},
  {"data":{"values":[{}]},"mark":{"type":"rule","color":"#3a3a3a","strokeWidth":2.2},"encoding":{"x":{"value":0},"x2":{"value":658},"y":{"value":17.7}}},
  {"data":{"values":[{"t":"Channel Power"}]},"mark":{"type":"text","align":"left","baseline":"middle","font":"DejaVu Sans","fontSize":11,"fontWeight":"bold","color":"#1a1a1a"},"encoding":{"x":{"value":0.5},"y":{"value":25.7},"text":{"field":"t"}}},
  {"data":{"values":[{"t":"EUTRA/LTE Square"}]},"mark":{"type":"text","align":"center","baseline":"middle","font":"DejaVu Sans","fontSize":11,"fontWeight":"bold","color":"#1a1a1a"},"encoding":{"x":{"value":311.5},"y":{"value":25.7},"text":{"field":"t"}}},
  {"data":{"values":[{}]},"mark":{"type":"rule","color":"#dcdcdc","strokeWidth":2},"encoding":{"x":{"value":0},"x2":{"value":658},"y":{"value":33}}},
  {"data":{"name":"hsep"},"mark":{"type":"rule","color":"#d0d0d0","strokeWidth":1},"encoding":{"y":{"field":"r","type":"quantitative","scale":{"domain":[0,6],"range":[34.5,120],"nice":false,"zero":false},"axis":null}}},
  {"data":{"name":"hsep"},"transform":[{"filter":"datum.r == 6"}],"mark":{"type":"rule","color":"#bdbdbd","strokeWidth":2},"encoding":{"y":{"field":"r","type":"quantitative","scale":{"domain":[0,6],"range":[34.5,120],"nice":false,"zero":false},"axis":null}}},
  {"data":{"name":"vsep"},"transform":[{"filter":"datum.e <= 4"}],"mark":{"type":"rule","color":"#cccccc","strokeWidth":1},"encoding":{"x":{"field":"e","type":"quantitative","scale":{"domain":[0,1,2,3,4],"range":[0.5,107.2,233.5,360.5,513.2],"nice":false,"zero":false},"axis":null},"y":{"datum":0,"type":"quantitative","scale":{"domain":[0,6],"range":[34.5,120],"nice":false,"zero":false},"axis":null},"y2":{"datum":6}}},
  {"data":{"name":"vsep"},"transform":[{"filter":"datum.e >= 1 && datum.e <= 4"}],"mark":{"type":"rule","color":"#444444","strokeWidth":1.5},"encoding":{"x":{"field":"e","type":"quantitative","scale":{"domain":[0,1,2,3,4,5],"range":[0.5,107.2,233.5,360.5,513.2,663.5],"nice":false,"zero":false},"axis":null},"y":{"datum":0,"type":"quantitative","scale":{"domain":[0,6],"range":[34.5,120],"nice":false,"zero":false},"axis":null},"y2":{"datum":1}}},
  {"data":{"name":"tableB"},"transform":[{"filter":"datum.k == 'head'"}],"mark":{"type":"text","align":"center","baseline":"middle","font":"DejaVu Sans","fontSize":11,"fontWeight":"bold","color":"#1a1a1a"},"encoding":{"x":{"field":"c","type":"quantitative","scale":{"domain":[0,1,2,3,4],"range":[53.7,170.3,297,436.8,588.3],"nice":false,"zero":false},"axis":null},"y":{"field":"r","type":"quantitative","scale":{"domain":[0,5],"range":[41.6,112.9],"nice":false,"zero":false},"axis":null},"text":{"field":"t"}}},
  {"data":{"name":"tableB"},"transform":[{"filter":"datum.k == 'label'"}],"mark":{"type":"text","align":"left","baseline":"middle","dx":2,"font":"DejaVu Sans","fontSize":11,"color":"#1a1a1a"},"encoding":{"x":{"field":"c","type":"quantitative","scale":{"domain":[0,1,2,3,4],"range":[0.5,107.2,233.5,360.5,513.2],"nice":false,"zero":false},"axis":null},"y":{"field":"r","type":"quantitative","scale":{"domain":[0,5],"range":[41.6,112.9],"nice":false,"zero":false},"axis":null},"text":{"field":"t"}}},
  {"data":{"name":"tableB"},"transform":[{"filter":"datum.k == 'value'"}],"mark":{"type":"text","align":"right","baseline":"middle","dx":-6.5,"font":"DejaVu Sans","fontSize":11,"color":"#1a1a1a"},"encoding":{"x":{"field":"c","type":"quantitative","scale":{"domain":[0,1,2,3,4],"range":[107.2,233.5,360.5,513.2,663.5],"nice":false,"zero":false},"axis":null},"y":{"field":"r","type":"quantitative","scale":{"domain":[0,5],"range":[41.6,112.9],"nice":false,"zero":false},"axis":null},"text":{"field":"t"}}},
  {"data":{"name":"tableB"},"transform":[{"filter":"datum.k == 'tlabel'"}],"mark":{"type":"text","align":"left","baseline":"middle","dx":2,"font":"DejaVu Sans","fontSize":11,"fontWeight":"bold","color":"#1a1a1a"},"encoding":{"x":{"field":"c","type":"quantitative","scale":{"domain":[0,1,2,3,4],"range":[0.5,107.2,233.5,360.5,513.2],"nice":false,"zero":false},"axis":null},"y":{"field":"r","type":"quantitative","scale":{"domain":[0,5],"range":[41.6,112.9],"nice":false,"zero":false},"axis":null},"text":{"field":"t"}}},
  {"data":{"name":"tableB"},"transform":[{"filter":"datum.k == 'tvalue'"}],"mark":{"type":"text","align":"right","baseline":"middle","dx":-6.5,"font":"DejaVu Sans","fontSize":11,"fontWeight":"bold","color":"#1a1a1a"},"encoding":{"x":{"field":"c","type":"quantitative","scale":{"domain":[0,1,2,3,4],"range":[107.2,233.5,360.5,513.2,663.5],"nice":false,"zero":false},"axis":null},"y":{"field":"r","type":"quantitative","scale":{"domain":[0,5],"range":[41.6,112.9],"nice":false,"zero":false},"axis":null},"text":{"field":"t"}}},
  {"data":{"values":[{"t":"("}]},"mark":{"type":"text","align":"right","baseline":"alphabetic","font":"Liberation Serif","fontSize":30,"color":"#111111"},"encoding":{"x":{"value":321.5},"y":{"value":147},"text":{"field":"t"}}},
  {"data":{"values":[{"t":"b"}]},"mark":{"type":"text","align":"center","baseline":"alphabetic","font":"Liberation Serif","fontSize":30,"fontWeight":"bold","color":"#111111"},"encoding":{"x":{"value":329.5},"y":{"value":147},"text":{"field":"t"}}},
  {"data":{"values":[{"t":")"}]},"mark":{"type":"text","align":"left","baseline":"alphabetic","font":"Liberation Serif","fontSize":30,"color":"#111111"},"encoding":{"x":{"value":337.5},"y":{"value":147},"text":{"field":"t"}}}
 ]}
]
}
